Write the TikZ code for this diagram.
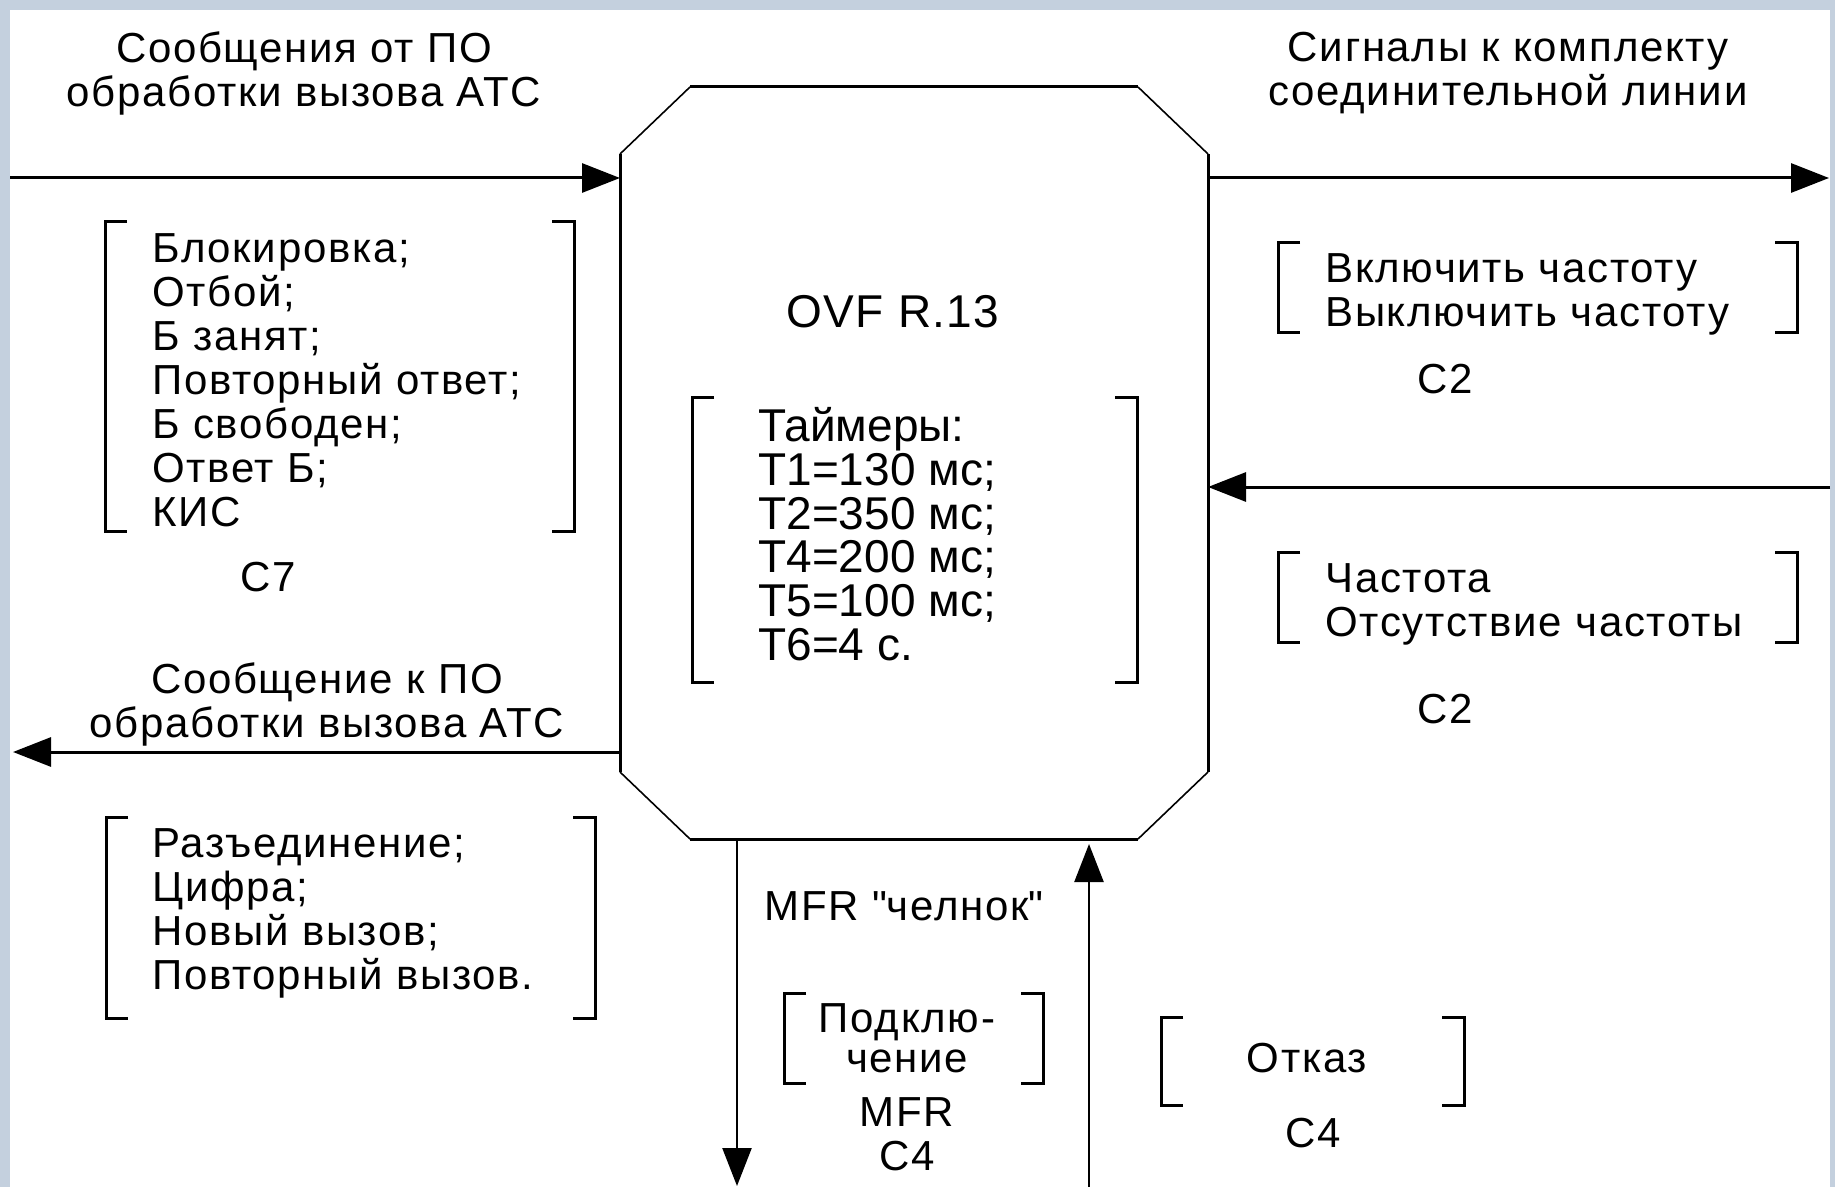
\documentclass[tikz,border=0pt]{standalone}
\usepackage{fontspec}
\setmainfont{Liberation Sans}
\newfontfamily\timerfont{Liberation Sans}
\usetikzlibrary{arrows.meta}

\definecolor{bgblue}{RGB}{196,208,222}

% square brackets round a group of signals: left x, top y, right x, bottom y
\newcommand{\sigbrackets}[4]{%
  \draw[brk] (#1+22,#2) -- (#1,#2) -- (#1,#4) -- (#1+22,#4);
  \draw[brk] (#3-22,#2) -- (#3,#2) -- (#3,#4) -- (#3-22,#4);}

\begin{document}
\begin{tikzpicture}[x=0.5pt,y=-0.5pt,>={Triangle[length=19pt,width=14.5pt]},
  lbl/.style={inner sep=0pt,font=\fontsize{21}{22}\selectfont\addfontfeature{LetterSpace=4}},
  sig/.style={->,line width=1.5pt},
  brk/.style={line width=1.5pt},
  frame/.style={line width=1.5pt},
  chamf/.style={line width=0.8pt}]
  \useasboundingbox (0,0) rectangle (1835,1187);
  \fill[bgblue] (0,0) rectangle (1835,1187);
  \fill[white] (10,10) rectangle (1830,1187);

  % OVF block
  \node[minimum width=294pt,minimum height=376pt,inner sep=0pt,outer sep=0pt] (ovf) at (914,463) {};
  \draw[frame] ([xshift=35pt]ovf.north west) -- ([xshift=-35pt]ovf.north east)
    ([yshift=-33.5pt]ovf.north east) -- ([yshift=33.5pt]ovf.south east)
    ([xshift=-35pt]ovf.south east) -- ([xshift=35pt]ovf.south west)
    ([yshift=33.5pt]ovf.south west) -- ([yshift=-33.5pt]ovf.north west);
  \draw[chamf] ([yshift=-33.5pt]ovf.north west) -- ([xshift=35pt]ovf.north west)
    ([xshift=-35pt]ovf.north east) -- ([yshift=-33.5pt]ovf.north east)
    ([yshift=33.5pt]ovf.south east) -- ([xshift=-35pt]ovf.south east)
    ([xshift=35pt]ovf.south west) -- ([yshift=33.5pt]ovf.south west);
  \node[lbl,font=\fontsize{23}{22}\selectfont\addfontfeature{LetterSpace=3}] (ovfname) at (893,312) {OVF R.13};
  \node[inner sep=0pt,anchor=north west,align=left,font=\timerfont\fontsize{23}{21.9}\selectfont] (timers) at (758,407)
    {Таймеры:\\T1=130 мс;\\T2=350 мс;\\T4=200 мс;\\T5=100 мс;\\T6=4 с.};
  \sigbrackets{692}{397}{1137}{682}

  % signal flows
  \coordinate (inA) at (10,178);
  \coordinate (outA) at (1829,178);
  \coordinate (inB) at (1830,487);
  \coordinate (outB) at (13,752);
  \coordinate (outC) at (737,1186);
  \coordinate (inD) at (1089,1187);
  \draw[sig] (inA) -- (inA -| ovf.west);
  \draw[sig] (outA -| ovf.east) -- (outA);
  \draw[sig] (inB) -- (inB -| ovf.east);
  \draw[sig] (outB -| ovf.west) -- (outB);
  \draw[sig,line width=1.2pt] (outC |- ovf.south) -- (outC);
  \draw[sig,line width=1.2pt,shorten >=2.5pt] (inD) -- (inD |- ovf.south);

  % left side
  \node[lbl,anchor=north,align=center] (capTL) at (304,31) {Сообщения от ПО\\обработки вызова АТС};
  \node[lbl,anchor=north west,align=left] (listTL) at (152,233)
    {Блокировка;\\Отбой;\\Б занят;\\Повторный ответ;\\Б свободен;\\Ответ Б;\\КИС};
  \sigbrackets{105}{222}{574}{531}
  \node[lbl] (c7) at (268,577) {C7};
  \node[lbl,anchor=north,align=center] (capBL) at (327,662) {Сообщение к ПО\\обработки вызова АТС};
  \node[lbl,anchor=north west,align=left] (listBL) at (152,828)
    {Разъединение;\\Цифра;\\Новый вызов;\\Повторный вызов.};
  \sigbrackets{106}{817}{595}{1018}

  % right side
  \node[lbl,anchor=north,align=center] (capTR) at (1508,32) {Сигналы к комплекту\\соединительной линии};
  \node[lbl,anchor=north west,align=left] (listTR) at (1325,253) {Включить частоту\\Выключить частоту};
  \sigbrackets{1278}{243}{1797}{333}
  \node[lbl] (c2a) at (1445,379) {C2};
  \node[lbl,anchor=north west,align=left] (listMR) at (1325,563) {Частота\\Отсутствие частоты};
  \sigbrackets{1278}{552}{1797}{642}
  \node[lbl] (c2b) at (1445,709) {C2};

  % bottom
  \node[lbl] (shuttle) at (904,906) {MFR \textquotedbl челнок\textquotedbl};
  \node[lbl,anchor=north,align=center,font=\fontsize{21}{20}\selectfont\addfontfeature{LetterSpace=4}] (plug) at (907,1003) {Подклю-\\чение};
  \sigbrackets{784}{993}{1043}{1083}
  \node[lbl,anchor=north,align=center] (plugc4) at (907,1097) {MFR\\C4};
  \node[lbl] (refuse) at (1307,1058) {Отказ};
  \sigbrackets{1161}{1017}{1464}{1105}
  \node[lbl] (refc4) at (1313,1133) {C4};
\end{tikzpicture}
\end{document}
